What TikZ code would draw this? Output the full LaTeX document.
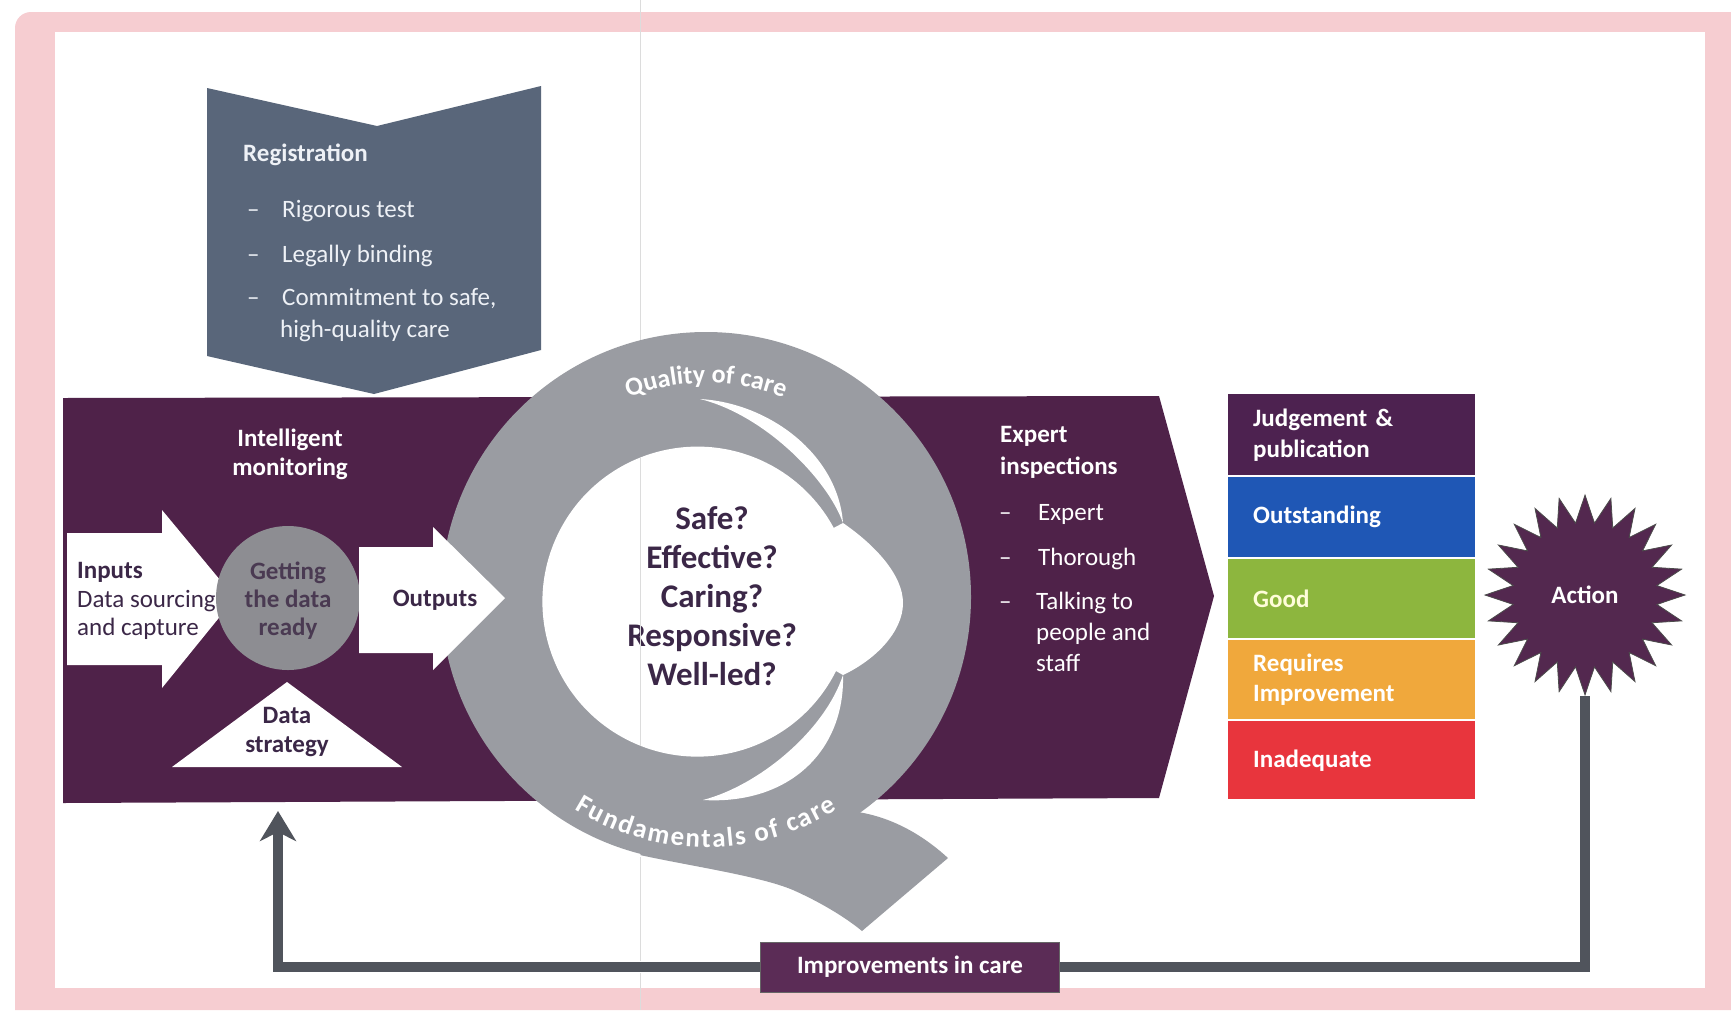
\documentclass[tikz,border=0pt]{standalone}
\usepackage{fontspec}
\setmainfont{Carlito}
\usetikzlibrary{shapes.geometric,arrows.meta,decorations.text}
\definecolor{pinkc}{HTML}{F6CDD1}
\definecolor{bandc}{HTML}{4F2249}
\definecolor{regc}{HTML}{59667A}
\definecolor{qgray}{HTML}{9A9CA2}
\definecolor{cgray}{HTML}{8D8D92}
\definecolor{darktext}{HTML}{3B2747}
\definecolor{ctext}{HTML}{4A3A52}
\definecolor{lighttext}{HTML}{EEF1F6}
\definecolor{outc}{HTML}{1F57B5}
\definecolor{goodc}{HTML}{8DB63E}
\definecolor{reqc}{HTML}{F0A83C}
\definecolor{inadc}{HTML}{E8353D}
\definecolor{judgec}{HTML}{4D2250}
\definecolor{linec}{HTML}{50545C}
\definecolor{starc}{HTML}{53284F}
\definecolor{impc}{HTML}{5B2C56}
\definecolor{foldc}{HTML}{DCDCDC}
\newcommand\qfont{\fontsize{26}{26}\selectfont\bfseries\color{white}}
\begin{document}
\begin{tikzpicture}[x=1pt,y=-1pt,
  txt/.style={inner sep=0pt, font=\fontsize{25}{29}\selectfont},
  btxt/.style={inner sep=0pt, font=\fontsize{25}{29}\selectfont\bfseries},
  qletter/.style={inner sep=0pt, anchor=base, text=white, font=\fontsize{27}{27}\selectfont\bfseries},
  rating/.style={anchor=north west, minimum width=247pt, text width=197pt,
     inner xsep=25pt, inner ysep=0pt, align=left,
     font=\fontsize{25}{31}\selectfont\bfseries, text=white},
  fbline/.style={line width=10pt, draw=linec},
]
\useasboundingbox (0,0) rectangle (1731,1010);
\fill[white] (0,0) rectangle (1731,1010);
% pink frame
\fill[pinkc] (15,1010) -- (15,28) arc[start angle=180, end angle=270, radius=16] -- (1731,12) -- (1731,1010) -- cycle;
\fill[white] (55,32) rectangle (1705,988);

% registration chevron
\fill[regc] (207,88) -- (377,126) -- (541,86) -- (541,350) -- (374,394) -- (207,356) -- cycle;
\node[btxt, lighttext, anchor=base west] (regtitle) at (243,161) {Registration};
\node[txt, lighttext, anchor=base west] (regd1) at (247,217) {--};
\node[txt, lighttext, anchor=base west] (reg1) at (282,217) {Rigorous test};
\node[txt, lighttext, anchor=base west] (regd2) at (247,262) {--};
\node[txt, lighttext, anchor=base west] (reg2) at (282,262) {Legally binding};
\node[txt, lighttext, anchor=base west] (regd3) at (247,305) {--};
\node[txt, lighttext, anchor=base west] (reg3) at (282,305) {Commitment to safe,};
\node[txt, lighttext, anchor=base west] (reg4) at (280,337) {high-quality care};

% purple band
\fill[bandc] (63,398) -- (1159,396) -- (1214,596) -- (1159,798) -- (63,803) -- cycle;

% Q shape
\coordinate (O) at (706,597);
\fill[qgray] (O) circle[radius=265];
\fill[qgray] (640,855) .. controls (690,866) and (760,876) .. (793,890)
   .. controls (820,902) and (845,917) .. (862,931) -- (948,858)
   .. controls (925,837) and (895,818) .. (858,812) -- (760,760) -- cycle;
% central white
\fill[white] (843,523) .. controls (875,545) and (903,575) .. (903,603)
   .. controls (903,632) and (875,660) .. (843,675) -- (836,671)
   arc[start angle=26.6, end angle=331.6, radius=155] -- cycle;
% upper slit
\fill[white] (700,399) .. controls (770,403) and (838,455) .. (843,523)
   .. controls (828,480) and (765,415) .. (700,399) -- cycle;
% lower slit
\fill[white] (843,675) .. controls (845,750) and (790,805) .. (703,800)
   .. controls (760,785) and (825,730) .. (843,675) -- cycle;
\path[decorate, decoration={text along path, text={|\qfont|Quality of care}, text align=center}]
   (O) ++(200:214) arc[start angle=200, end angle=340, radius=214];
% "Fundamentals of care" letter by letter along the lower arc
\begin{scope}[shift={(706,597)}]
\foreach \ch/\a [count=\i] in {F/120.28, u/116.79, n/113.05, d/109.32, a/105.71, m/101.26,
    e/96.77, n/93.14, t/89.99, a/86.98, l/84.28, s/81.87, o/76.75, f/73.69,
    c/69.20, a/65.96, r/62.92, e/59.86}
  \node[qletter, rotate={90-\a}] (fund\i) at (\a:250) {\ch};
\end{scope}
% multi-line nodes: base anchor = baseline of last line
\node[btxt, darktext, align=center, anchor=base, font=\fontsize{33}{38.8}\selectfont\bfseries] (questions) at (712,685)
   {Safe?\\Effective?\\Caring?\\Responsive?\\Well-led?};

% intelligent monitoring
\node[btxt, white, align=center, anchor=base] (intmon) at (290,475) {Intelligent\\monitoring};
\fill[white] (67,533) -- (162,533) -- (162,510) -- (235,598) -- (162,688) -- (162,665) -- (67,665) -- cycle;
\fill[cgray] (288,598) circle[radius=72];
\fill[white] (359,547) -- (433,547) -- (433,527) -- (505,598) -- (433,670) -- (433,653) -- (359,653) -- cycle;
\fill[white] (172,767) -- (287,682) -- (402,767) -- cycle;
\node[btxt, darktext, anchor=base west] (inputs) at (77,578) {Inputs};
\node[txt, darktext, anchor=base west, align=left, font=\fontsize{25}{28}\selectfont] (sourcing) at (77,635) {Data sourcing\\and capture};
\node[btxt, ctext, align=center, anchor=base, font=\fontsize{25}{28}\selectfont\bfseries] (getting) at (288,635) {Getting\\the data\\ready};
\node[btxt, darktext, anchor=base] (outputs) at (435,606) {Outputs};
\node[btxt, darktext, align=center, anchor=base] (strategy) at (287,752) {Data\\strategy};

% expert inspections
\node[btxt, white, align=left, anchor=base west, font=\fontsize{25}{32}\selectfont\bfseries] (expert) at (1000,474) {Expert\\inspections};
\node[txt, white, anchor=base west] (expd1) at (999,520) {--};
\node[txt, white, anchor=base west] (exp1) at (1038,520) {Expert};
\node[txt, white, anchor=base west] (expd2) at (999,565) {--};
\node[txt, white, anchor=base west] (exp2) at (1038,565) {Thorough};
\node[txt, white, anchor=base west] (expd3) at (999,609) {--};
\node[txt, white, anchor=base west, align=left, font=\fontsize{25}{31}\selectfont] (exp3) at (1036,671) {Talking to\\people and\\staff};

% ratings
\node[rating, fill=judgec, minimum height=81pt] (judge) at (1228,394) {Judgement \&\\publication};
\node[rating, fill=outc, minimum height=80pt] (outst) at (1228,477) {Outstanding};
\node[rating, fill=goodc, minimum height=79pt, text=yellow!15!white] (good) at (1228,559) {Good};
\node[rating, fill=reqc, minimum height=79pt, font=\fontsize{25}{30}\selectfont\bfseries] (req) at (1228,640) {Requires\\Improvement};
\node[rating, fill=inadc, minimum height=78pt] (inad) at (1228,721) {Inadequate};

% action and feedback loop
\node[star, star points=24, star point ratio=1.38, minimum size=200pt, inner sep=0pt,
      fill=starc, draw=black!70, line width=0.8pt, text=white,
      font=\fontsize{25}{29}\selectfont\bfseries] (action) at (1585,595) {Action};
\node[fill=impc, draw=black!60, line width=0.8pt, minimum width=299pt, minimum height=50pt,
      inner sep=0pt, text=white, font=\fontsize{25}{29}\selectfont\bfseries] (impr) at (910,967) {Improvements in care};
\coordinate (fbtip) at (278,811);
\draw[fbline] (action.south) |- (impr.east);
\draw[fbline, -{Stealth[length=30pt, width=36pt, inset=9pt]}] (impr.west) -| (fbtip);

% scan fold line
\draw[foldc, line width=1pt] (640,0) -- (640,340);
\draw[foldc, line width=1pt] (640,458) -- (640,746);
\draw[foldc, line width=1pt] (640,857) -- (640,961);
\draw[foldc, line width=1pt] (640,973) -- (640,1010);
\end{tikzpicture}
\end{document}
